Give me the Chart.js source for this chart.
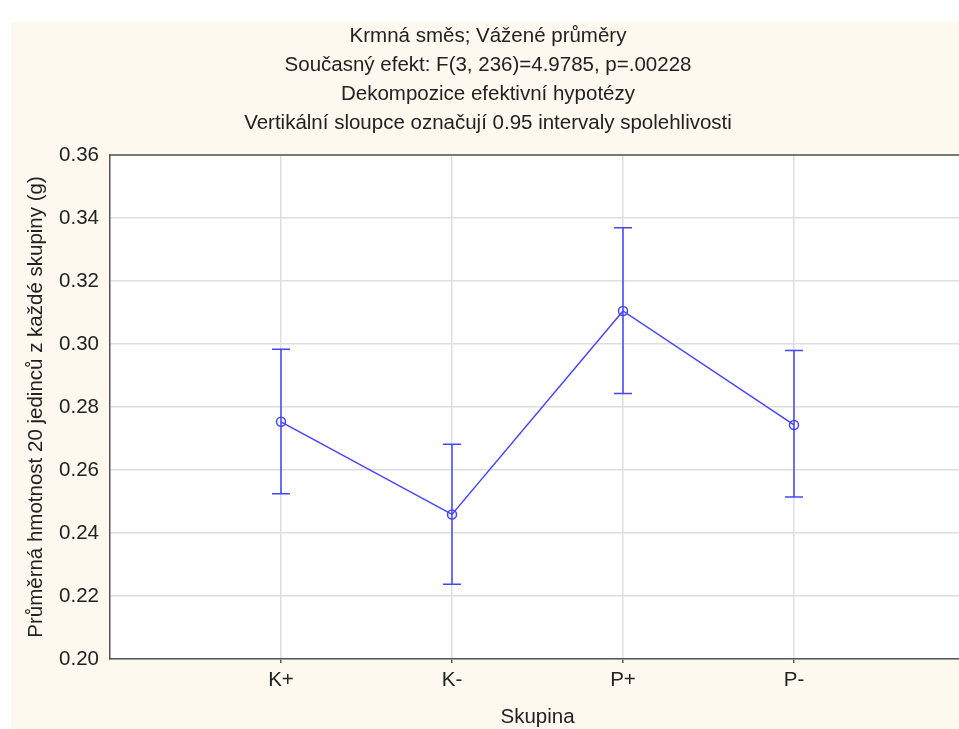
<!DOCTYPE html>
<html>
<head>
<meta charset="utf-8">
<script src="https://cdn.jsdelivr.net/npm/chart.js@4/dist/chart.umd.min.js"></script>
<style>
  html, body { margin: 0; padding: 0; background: #ffffff; overflow: hidden; width: 959px; height: 729px; }
  #wrap { position: absolute; left: 11px; top: 22px; }
  canvas { display: block; }
</style>
</head>
<body>
<div id="wrap"><canvas id="c" width="962" height="707"></canvas></div>
<script>
// ---- data ----
const titleLines = [
  'Krmná směs; Vážené průměry',
  'Současný efekt: F(3, 236)=4.9785, p=.00228',
  'Dekompozice efektivní hypotézy',
  'Vertikální sloupce označují 0.95 intervaly spolehlivosti'
];
const categories = ['K+', 'K-', 'P+', 'P-'];
const means = [0.2753, 0.2459, 0.3105, 0.2743];
const lowerCI = [0.2525, 0.2237, 0.2843, 0.2514];
const upperCI = [0.2983, 0.2682, 0.3369, 0.2979];
const yTickValues = [0.20, 0.22, 0.24, 0.26, 0.28, 0.30, 0.32, 0.34, 0.36];
const xTitle = 'Skupina';
const yTitle = 'Průměrná hmotnost 20 jedinců z každé skupiny (g)';

// ---- styles ----
const BLUE = '#4545ff';
const FONT = "'Liberation Sans', Arial, sans-serif";
const TEXT = '#222222';
const GRID = '#dedede';
const AXIS = '#555555';

const bgPlugin = {
  id: 'bg',
  beforeDraw(chart) {
    const {ctx, chartArea: a, width, height} = chart;
    ctx.save();
    ctx.fillStyle = '#fef9ef';
    ctx.fillRect(0, 0, width, height);
    ctx.fillStyle = '#ffffff';
    ctx.fillRect(a.left, a.top, a.right - a.left, a.bottom - a.top);
    ctx.restore();
  },
  afterDraw(chart) {
    const {ctx, chartArea: a} = chart;
    ctx.save();
    ctx.strokeStyle = AXIS;
    ctx.lineWidth = 1.5;
    ctx.beginPath();
    ctx.moveTo(a.left, a.top);
    ctx.lineTo(a.right, a.top);
    ctx.stroke();
    ctx.restore();
  }
};

const errPlugin = {
  id: 'errbars',
  afterDatasetsDraw(chart) {
    const {ctx, scales: {x, y}} = chart;
    ctx.save();
    ctx.strokeStyle = BLUE;
    ctx.lineWidth = 1.5;
    categories.forEach((c, i) => {
      const px = x.getPixelForValue(i + 1);
      const pLo = y.getPixelForValue(lowerCI[i]);
      const pHi = y.getPixelForValue(upperCI[i]);
      ctx.beginPath();
      ctx.moveTo(px, pLo); ctx.lineTo(px, pHi);
      ctx.moveTo(px - 9, pLo); ctx.lineTo(px + 9, pLo);
      ctx.moveTo(px - 9, pHi); ctx.lineTo(px + 9, pHi);
      ctx.stroke();
    });
    ctx.restore();
  }
};

new Chart(document.getElementById('c'), {
  type: 'line',
  data: {
    datasets: [{
      data: means.map((m, i) => ({x: i + 1, y: m})),
      borderColor: BLUE,
      borderWidth: 1.5,
      tension: 0,
      pointRadius: 4.5,
      pointBorderWidth: 1.5,
      pointBorderColor: BLUE,
      pointBackgroundColor: 'rgba(255,255,255,0)',
      fill: false
    }]
  },
  options: {
    responsive: false,
    devicePixelRatio: 1,
    animation: false,
    layout: { padding: { left: 0, right: 8, top: 0, bottom: 0 } },
    plugins: {
      legend: { display: false },
      tooltip: { enabled: false },
      title: {
        display: true,
        text: titleLines,
        color: TEXT,
        font: { family: FONT, size: 20.5, weight: 'normal', lineHeight: '29px' },
        padding: { top: 0, bottom: 17 }
      }
    },
    scales: {
      x: {
        type: 'linear',
        min: 0, max: 5,
        afterBuildTicks(scale) { scale.ticks = categories.map((c, i) => ({value: i + 1})); },
        afterFit(scale) { scale.height = 70; },
        ticks: {
          callback: (v) => categories[v - 1] ?? '',
          color: TEXT,
          font: { family: FONT, size: 20.5 },
          padding: 5,
          maxRotation: 0,
          autoSkip: false
        },
        grid: { color: GRID, lineWidth: 1.5, drawTicks: true, tickLength: 4, tickColor: AXIS, tickWidth: 1.5 },
        border: { display: true, color: AXIS, width: 1.5 },
        title: {
          display: true, text: xTitle, color: TEXT,
          font: { family: FONT, size: 20.5, lineHeight: '24px' },
          padding: { top: 0, bottom: 0 }
        }
      },
      y: {
        min: 0.20, max: 0.36,
        afterBuildTicks(scale) { scale.ticks = yTickValues.map(v => ({value: v})); },
        afterFit(scale) { scale.width = 99; },
        ticks: {
          callback: (v) => Number(v).toFixed(2),
          color: TEXT,
          font: { family: FONT, size: 20.5 },
          padding: 11
        },
        grid: { color: GRID, lineWidth: 1.5, drawTicks: false },
        border: { display: true, color: AXIS, width: 1.5 },
        title: {
          display: true, text: yTitle, color: TEXT,
          font: { family: FONT, size: 20.5, lineHeight: '24px' },
          padding: { top: 13, bottom: 0 }
        }
      }
    }
  },
  plugins: [bgPlugin, errPlugin]
});
</script>
</body>
</html>
